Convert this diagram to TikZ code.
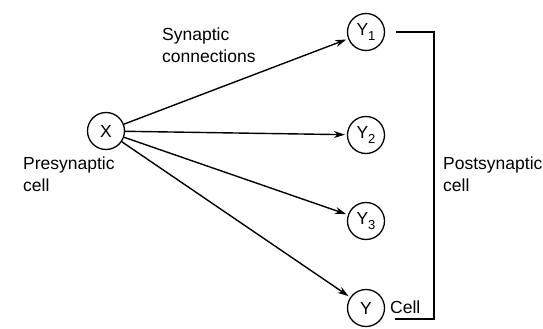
\documentclass[tikz,border=0pt]{standalone}
\usepackage{fontspec}
\setmainfont{Liberation Sans}
\usetikzlibrary{positioning,arrows.meta}

\newcommand{\sbs}[1]{\raisebox{-0.45ex}{\fontsize{13}{13}\selectfont #1}}

\begin{document}
\begin{tikzpicture}[
  x=1pt, y=-1pt,
  font=\fontsize{17.5}{21.5}\selectfont,
  cell/.style={
    circle, draw=black, line width=1.3pt,
    minimum size=37pt, inner sep=0pt
  },
  lbl/.style={inner sep=0pt, align=left},
  arr/.style={-{Stealth[length=11pt,width=7pt]}, line width=1.4pt, draw=black, shorten >=2pt},
  brk/.style={line width=1.4pt, draw=black}
]
\useasboundingbox (0,0) rectangle (543,329);

\node[cell] (x)  at (106,131) {X};
\node[cell] (y1) at (366,32)  {Y\sbs{1}};
\node[cell] (y2) at (366,135) {Y\sbs{2}};
\node[cell] (y3) at (366,221) {Y\sbs{3}};
\node[cell] (y)  at (366,308) {Y};

\node[lbl, anchor=north west] (syn)  at (162,28)  {Synaptic\\connections};
\node[lbl, anchor=north west] (pre)  at (23,157)  {Presynaptic\\cell};
\node[lbl, anchor=north west] (post) at (443,157) {Postsynaptic\\cell};
\node[lbl, anchor=base west]  (cl)   at (390,313) {Cell};

\draw[arr] (x) -- (y1);
\draw[arr] (x) -- (y2);
\draw[arr] (x) -- (y3);
\draw[arr] (x) -- (y);

\coordinate (bc) at (434,319);
\coordinate (be) at (395,319);
\draw[brk] ([xshift=11pt]y1.east) -| (bc) -- (be);

\end{tikzpicture}
\end{document}
